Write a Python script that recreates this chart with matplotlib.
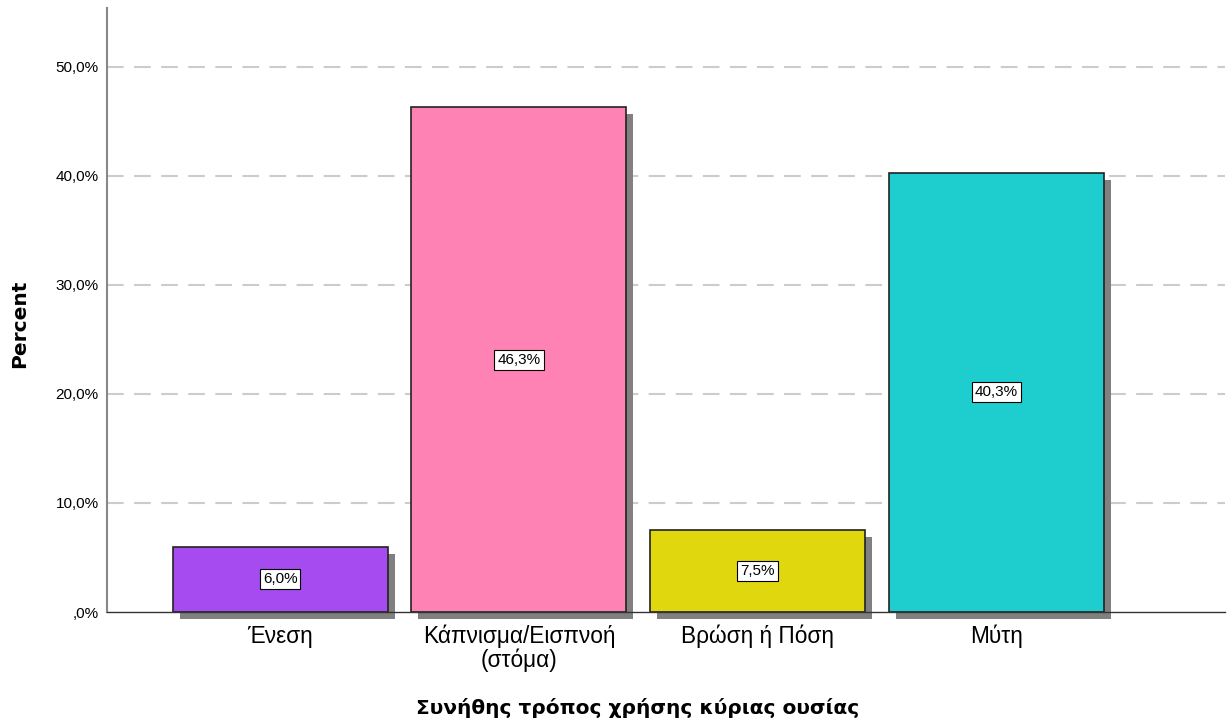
import matplotlib
matplotlib.use("Agg")
import matplotlib.pyplot as plt
import matplotlib.transforms as mtransforms

categories = ["Ένεση", "Κάπνισμα/Εισπνοή\n(στόμα)", "Βρώση ή Πόση", "Μύτη"]
values = [6.0, 46.3, 7.5, 40.3]
colors = ["#A64BF0", "#FF82B4", "#E1D70F", "#1ECDCD"]
yticks = [0, 10, 20, 30, 40, 50]
ytick_labels = [",0%", "10,0%", "20,0%", "30,0%", "40,0%", "50,0%"]
bar_labels = ["6,0%", "46,3%", "7,5%", "40,3%"]

plt.rcParams['font.family'] = ['Liberation Sans', 'DejaVu Sans']

W, H = 1232, 722
fig = plt.figure(figsize=(W/100, H/100), dpi=100)
ax = fig.add_axes([107/W, 1-612/H, (1225-107)/W, (612-8)/H])

x = list(range(len(categories)))
shadow_tr = mtransforms.offset_copy(ax.transData, fig=fig, x=7, y=-7, units='dots')
ax.bar(x, values, width=0.9, color="#808080", transform=shadow_tr, zorder=2, clip_on=False, linewidth=0)
bars = ax.bar(x, values, width=0.9, color=colors, edgecolor="#222222", linewidth=1.2, zorder=3)

for xi, v, lab in zip(x, values, bar_labels):
    ax.text(xi, v/2, lab, ha="center", va="center", fontsize=11, zorder=5,
            bbox=dict(boxstyle="square,pad=0.2", facecolor="white", edgecolor="black", linewidth=0.8))

ax.set_xlim(-0.725, 3.957)
ax.set_ylim(0, 55.4)
ax.set_yticks(yticks)
ax.set_yticklabels(ytick_labels, fontsize=11)
ax.set_xticks(x)
ax.set_xticklabels(categories, fontsize=16.3, linespacing=1.0)
ax.tick_params(axis="both", length=0)
ax.tick_params(axis="x", pad=9)
ax.tick_params(axis="y", pad=6)

for yv in yticks[1:]:
    ax.axhline(yv, color="#CCCCCC", linestyle=(0, (8, 5)), linewidth=1.5, zorder=1)

for s in ["top", "right"]:
    ax.spines[s].set_visible(False)
ax.spines["left"].set_color("#888888")
ax.spines["left"].set_linewidth(1.5)
ax.spines["bottom"].set_color("#333333")
ax.spines["bottom"].set_linewidth(1.0)
ax.spines["bottom"].set_zorder(4)

fig.text(20/W, 1-324/H, "Percent", rotation=90, ha="center", va="center",
         fontsize=14.5, fontweight="bold", family="DejaVu Sans")
fig.text(638/W, 1-708/H, "Συνήθης τρόπος χρήσης κύριας ουσίας", ha="center", va="center",
         fontsize=14.5, fontweight="bold", family="DejaVu Sans")

fig.savefig("out.png", dpi=100, facecolor="white")
